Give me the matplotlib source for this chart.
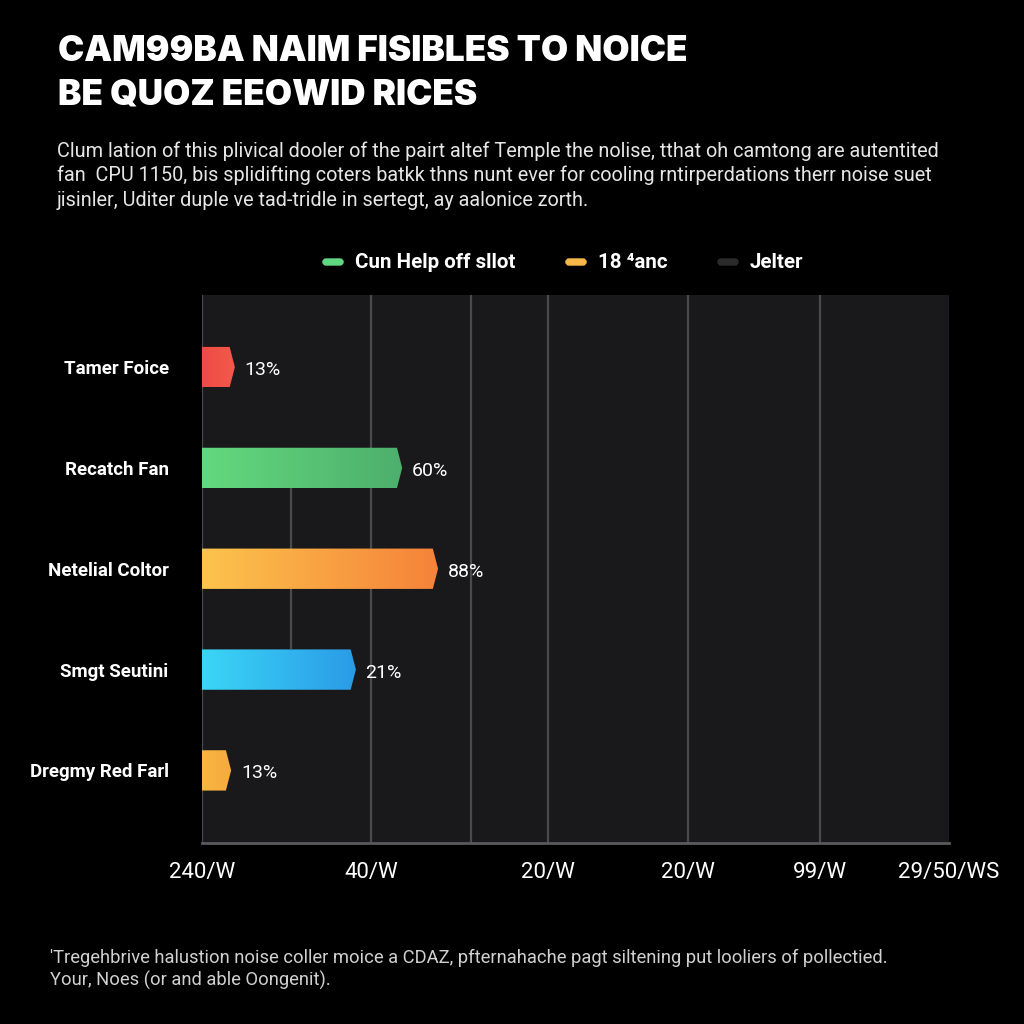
import matplotlib
matplotlib.use("Agg")
import matplotlib.pyplot as plt
from matplotlib.patches import Polygon, FancyBboxPatch
from matplotlib.colors import LinearSegmentedColormap
import numpy as np

# data
categories = ["Tamer Foice", "Recatch Fan", "Netelial Coltor", "Smgt Seutini", "Dregmy Red Farl"]
bar_lengths = [4.4, 26.8, 31.6, 20.6, 3.9]
value_labels = ["13%", "60%", "88%", "21%", "13%"]
color_start = ["#ef4a45", "#63d97e", "#fcc44c", "#3bd6f6", "#f8b642"]
color_end = ["#f25a4b", "#4daf6c", "#f5823a", "#2a9be7", "#f6aa3d"]

tick_pos = [0, 22.6, 46.3, 65.1, 82.7, 100]
tick_labels = ["240/W", "40/W", "20/W", "20/W", "99/W", "29/50/WS"]
grid_pos = [0, 22.6, 36.0, 46.3, 65.1, 82.7]

legend_labels = ["Cun Help off sllot", "18 \u2074anc", "Jelter"]
legend_colors = ["#5fd884", "#f7b84a", "#2b2b2b"]

title = "CAM99BA NAIM FISIBLES TO NOICE\nBE QUOZ EEOWID RICES"
subtitle = ["Clum lation of this plivical dooler of the pairt altef Temple the nolise, tthat oh camtong are autentited",
            "fan  CPU 1150, bis splidifting coters batkk thns nunt ever for cooling rntirperdations therr noise suet",
            "jisinler, Uditer duple ve tad-tridle in sertegt, ay aalonice zorth."]
footnote = ["'Tregehbrive halustion noise coller moice a CDAZ, pfternahache pagt siltening put looliers of pollectied.",
            "Your, Noes (or and able Oongenit)."]

plain = ["Roboto", "DejaVu Sans"]
bold_font = ["Roboto", "DejaVu Sans"]

fig = plt.figure(figsize=(10.24, 10.24), dpi=100, facecolor="black")
ax = fig.add_axes([202 / 1024, 1 - 843 / 1024, 747 / 1024, 548 / 1024])
ax.set_facecolor("#19191b")

for g in grid_pos:
    ax.axvline(g, color="#4a4a4c", lw=1.6, zorder=1)
# short connector line between the bars
ax.vlines(11.9, 1.2, 2.8, color="#4a4a4c", lw=1.6, zorder=1)

h = 0.4
tip = 0.7
for i, (L, c0, c1) in enumerate(zip(bar_lengths, color_start, color_end)):
    pts = [(0, i - h / 2), (L - tip, i - h / 2), (L, i), (L - tip, i + h / 2), (0, i + h / 2)]
    poly = Polygon(pts, closed=True, facecolor="none", edgecolor="none")
    ax.add_patch(poly)
    cmap = LinearSegmentedColormap.from_list("g%d" % i, [c0, c1])
    im = ax.imshow(np.linspace(0, 1, 256).reshape(1, -1), cmap=cmap, aspect="auto",
                   extent=[0, L, i + h / 2, i - h / 2], zorder=3, interpolation="bilinear")
    im.set_clip_path(poly)
    ax.text(L + 1.3, i + 0.03, value_labels[i], color="white", fontsize=14,
            va="center", ha="left", family=plain, zorder=4)

ax.set_xlim(0, 100)
ax.set_ylim(4.72, -0.715)

ax.set_yticks(range(len(categories)))
ax.set_yticklabels(categories, color="white", fontsize=13.5, fontweight="bold", family=bold_font)
ax.tick_params(axis="y", length=0, pad=24)
ax.set_xticks(tick_pos)
ax.set_xticklabels(tick_labels, color="white", fontsize=16, family=plain)
ax.tick_params(axis="x", length=0, pad=14)

for s in ["top", "right", "left"]:
    ax.spines[s].set_visible(False)
ax.spines["bottom"].set_color("#5a5a5c")
ax.spines["bottom"].set_linewidth(2)

fig.text(58 / 1024, 1 - 35 / 1024, title, color="white", fontsize=25.3, fontweight="black",
         family=["Inter", "DejaVu Sans"], va="top", ha="left", linespacing=1.42)
for k, line in enumerate(subtitle):
    fig.text(57 / 1024, 1 - (151 + 24.5 * k) / 1024, line, color="#e6e6e6", fontsize=14.3,
             family=plain, va="center", ha="left")

# legend drawn by hand to keep its spacing
leg_x = [323, 566, 718]
for x, lab, col in zip(leg_x, legend_labels, legend_colors):
    fig.patches.append(FancyBboxPatch((x / 1024, 1 - 265 / 1024), 20 / 1024, 6 / 1024,
                                      boxstyle="round,pad=0,rounding_size=0.003",
                                      transform=fig.transFigure, color=col))
    fig.text((x + 32) / 1024, 1 - 262 / 1024, lab, color="white", fontsize=14.8, fontweight="bold",
             family=bold_font, va="center", ha="left")

for k, line in enumerate(footnote):
    fig.text(50 / 1024, 1 - (958 + 22 * k) / 1024, line, color="#d0d0d0", fontsize=13.2,
             family=plain, va="center", ha="left")

fig.savefig("out.png", dpi=100, facecolor="black")
